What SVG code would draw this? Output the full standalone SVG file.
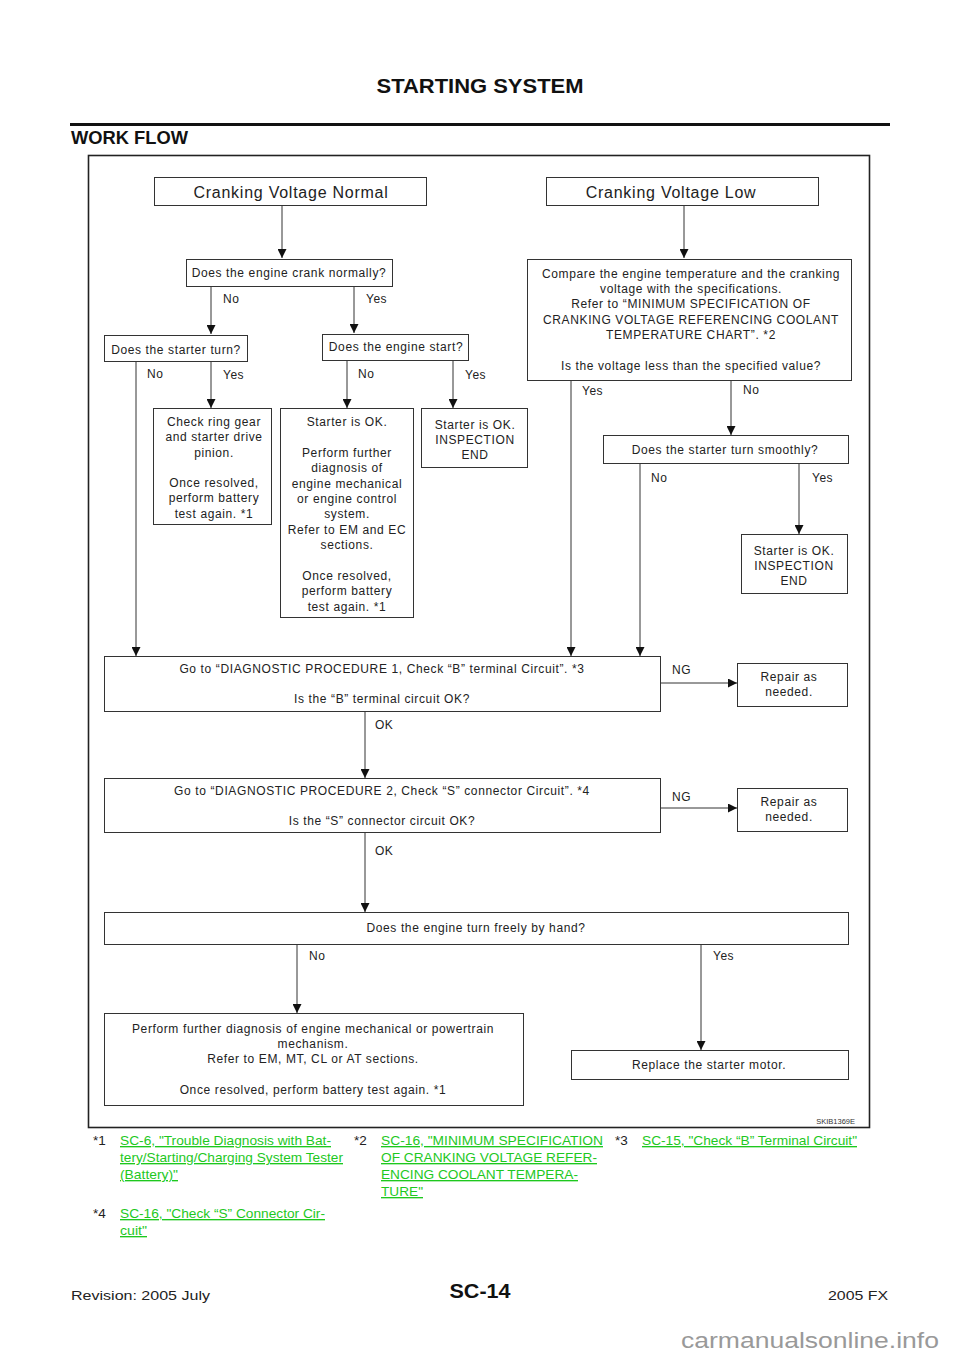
<svg xmlns="http://www.w3.org/2000/svg" width="960" height="1358" viewBox="0 0 960 1358">
<style>
.box{fill:#fff;stroke:#333;stroke-width:1}
.t{font-family:"Liberation Sans",Arial,sans-serif;font-size:12px;fill:#222;letter-spacing:0.62px;text-anchor:middle}
.big{font-size:16px;letter-spacing:0.75px}
.l{font-family:"Liberation Sans",Arial,sans-serif;font-size:12px;fill:#222;letter-spacing:0.5px}
.c{fill:none;stroke:#333;stroke-width:1}
.fn{font-family:"Liberation Sans",Arial,sans-serif;font-size:13.5px;fill:#222}
.lk{font-family:"Liberation Sans",Arial,sans-serif;font-size:13.5px;fill:#1ec81e;text-decoration:underline}
.h{font-family:"Liberation Sans",Arial,sans-serif;font-weight:bold;fill:#111}
</style>
<defs>
<marker id="ah" viewBox="0 0 10 10" refX="10" refY="5" markerWidth="10" markerHeight="9" orient="auto" markerUnits="userSpaceOnUse">
<path d="M0,0 L10,5 L0,10 z" fill="#111"/>
</marker>
</defs>
<rect width="960" height="1358" fill="#fff"/>

<g id="header">
<text class="h" x="480" y="93" font-size="21" text-anchor="middle" textLength="207" lengthAdjust="spacingAndGlyphs">STARTING SYSTEM</text>
<rect x="70" y="123" width="820" height="3" fill="#111"/>
<text class="h" x="71" y="144" font-size="18" textLength="117" lengthAdjust="spacingAndGlyphs">WORK FLOW</text>
<rect x="88.5" y="155.5" width="781" height="972" fill="none" stroke="#222" stroke-width="1.6"/>
<text x="855" y="1124" font-family="Liberation Sans,Arial,sans-serif" font-size="7.5" fill="#333" text-anchor="end">SKIB1369E</text>
</g>

<g id="connectors">
<line class="c" x1="282" y1="205" x2="282" y2="258" marker-end="url(#ah)"/>
<line class="c" x1="684" y1="205" x2="684" y2="258" marker-end="url(#ah)"/>
<line class="c" x1="211" y1="286" x2="211" y2="334" marker-end="url(#ah)"/>
<line class="c" x1="354" y1="286" x2="354" y2="333" marker-end="url(#ah)"/>
<line class="c" x1="136" y1="361" x2="136" y2="656" marker-end="url(#ah)"/>
<line class="c" x1="211" y1="361" x2="211" y2="408" marker-end="url(#ah)"/>
<line class="c" x1="347" y1="360" x2="347" y2="408" marker-end="url(#ah)"/>
<line class="c" x1="453" y1="360" x2="453" y2="408" marker-end="url(#ah)"/>
<line class="c" x1="571" y1="380" x2="571" y2="656" marker-end="url(#ah)"/>
<line class="c" x1="731" y1="380" x2="731" y2="435" marker-end="url(#ah)"/>
<line class="c" x1="640" y1="463" x2="640" y2="656" marker-end="url(#ah)"/>
<line class="c" x1="799" y1="463" x2="799" y2="534" marker-end="url(#ah)"/>
<line class="c" x1="660" y1="683" x2="737" y2="683" marker-end="url(#ah)"/>
<line class="c" x1="365" y1="711" x2="365" y2="778" marker-end="url(#ah)"/>
<line class="c" x1="660" y1="808" x2="737" y2="808" marker-end="url(#ah)"/>
<line class="c" x1="365" y1="832" x2="365" y2="912" marker-end="url(#ah)"/>
<line class="c" x1="297" y1="944" x2="297" y2="1013" marker-end="url(#ah)"/>
<line class="c" x1="701" y1="944" x2="701" y2="1050" marker-end="url(#ah)"/>
<text class="l" x="223" y="303">No</text>
<text class="l" x="366" y="303">Yes</text>
<text class="l" x="147" y="378">No</text>
<text class="l" x="223" y="379">Yes</text>
<text class="l" x="358" y="378">No</text>
<text class="l" x="465" y="379">Yes</text>
<text class="l" x="582" y="395">Yes</text>
<text class="l" x="743" y="394">No</text>
<text class="l" x="651" y="482">No</text>
<text class="l" x="812" y="482">Yes</text>
<text class="l" x="672" y="674">NG</text>
<text class="l" x="375" y="729">OK</text>
<text class="l" x="672" y="801">NG</text>
<text class="l" x="375" y="855">OK</text>
<text class="l" x="309" y="960">No</text>
<text class="l" x="713" y="960">Yes</text>
</g>

<g id="n_normal">
<rect class="box" x="154.5" y="177.5" width="272" height="28"/>
<text class="t big" x="291" y="198">Cranking Voltage Normal</text>
</g>
<g id="n_low">
<rect class="box" x="546.5" y="177.5" width="272" height="28"/>
<text class="t big" x="671" y="198">Cranking Voltage Low</text>
</g>
<g id="n_crank">
<rect class="box" x="186.5" y="259.5" width="206" height="27"/>
<text class="t" x="289" y="277">Does the engine crank normally?</text>
</g>
<g id="n_compare">
<rect class="box" x="527.5" y="259.5" width="324" height="121"/>
<text class="t" x="691" y="278">Compare the engine temperature and the cranking</text>
<text class="t" x="691" y="293">voltage with the specifications.</text>
<text class="t" x="691" y="308">Refer to “MINIMUM SPECIFICATION OF</text>
<text class="t" x="691" y="324">CRANKING VOLTAGE REFERENCING COOLANT</text>
<text class="t" x="691" y="339">TEMPERATURE CHART”. *2</text>
<text class="t" x="691" y="370">Is the voltage less than the specified value?</text>
</g>
<g id="n_starter_turn">
<rect class="box" x="104.5" y="335.5" width="143" height="26"/>
<text class="t" x="176" y="354">Does the starter turn?</text>
</g>
<g id="n_engine_start">
<rect class="box" x="322.5" y="334.5" width="146" height="26"/>
<text class="t" x="396" y="351">Does the engine start?</text>
</g>
<g id="n_ring">
<rect class="box" x="153.5" y="408.5" width="118" height="116"/>
<text class="t" x="214" y="426">Check ring gear</text>
<text class="t" x="214" y="441">and starter drive</text>
<text class="t" x="214" y="457">pinion.</text>
<text class="t" x="214" y="487">Once resolved,</text>
<text class="t" x="214" y="502">perform battery</text>
<text class="t" x="214" y="518">test again. *1</text>
</g>
<g id="n_further">
<rect class="box" x="280.5" y="408.5" width="133" height="209"/>
<text class="t" x="347" y="426">Starter is OK.</text>
<text class="t" x="347" y="457">Perform further</text>
<text class="t" x="347" y="472">diagnosis of</text>
<text class="t" x="347" y="488">engine mechanical</text>
<text class="t" x="347" y="503">or engine control</text>
<text class="t" x="347" y="518">system.</text>
<text class="t" x="347" y="534">Refer to EM and EC</text>
<text class="t" x="347" y="549">sections.</text>
<text class="t" x="347" y="580">Once resolved,</text>
<text class="t" x="347" y="595">perform battery</text>
<text class="t" x="347" y="611">test again. *1</text>
</g>
<g id="n_end1">
<rect class="box" x="421.5" y="408.5" width="106" height="59"/>
<text class="t" x="475" y="429">Starter is OK.</text>
<text class="t" x="475" y="444">INSPECTION</text>
<text class="t" x="475" y="459">END</text>
</g>
<g id="n_smooth">
<rect class="box" x="603.5" y="435.5" width="245" height="28"/>
<text class="t" x="725" y="454">Does the starter turn smoothly?</text>
</g>
<g id="n_end2">
<rect class="box" x="741.5" y="534.5" width="106" height="59"/>
<text class="t" x="794" y="555">Starter is OK.</text>
<text class="t" x="794" y="570">INSPECTION</text>
<text class="t" x="794" y="585">END</text>
</g>
<g id="n_diag1">
<rect class="box" x="104.5" y="656.5" width="556" height="55"/>
<text class="t" x="382" y="673">Go to “DIAGNOSTIC PROCEDURE 1, Check “B” terminal Circuit”. *3</text>
<text class="t" x="382" y="703">Is the “B” terminal circuit OK?</text>
</g>
<g id="n_repair1">
<rect class="box" x="737.5" y="663.5" width="110" height="43"/>
<text class="t" x="789" y="681">Repair as</text>
<text class="t" x="789" y="696">needed.</text>
</g>
<g id="n_diag2">
<rect class="box" x="104.5" y="778.5" width="556" height="54"/>
<text class="t" x="382" y="795">Go to “DIAGNOSTIC PROCEDURE 2, Check “S” connector Circuit”. *4</text>
<text class="t" x="382" y="825">Is the “S” connector circuit OK?</text>
</g>
<g id="n_repair2">
<rect class="box" x="737.5" y="788.5" width="110" height="43"/>
<text class="t" x="789" y="806">Repair as</text>
<text class="t" x="789" y="821">needed.</text>
</g>
<g id="n_hand">
<rect class="box" x="104.5" y="912.5" width="744" height="32"/>
<text class="t" x="476" y="932">Does the engine turn freely by hand?</text>
</g>
<g id="n_mech">
<rect class="box" x="104.5" y="1013.5" width="419" height="92"/>
<text class="t" x="313" y="1033">Perform further diagnosis of engine mechanical or powertrain</text>
<text class="t" x="313" y="1048">mechanism.</text>
<text class="t" x="313" y="1063">Refer to EM, MT, CL or AT sections.</text>
<text class="t" x="313" y="1094">Once resolved, perform battery test again. *1</text>
</g>
<g id="n_replace">
<rect class="box" x="571.5" y="1050.5" width="277" height="29"/>
<text class="t" x="709" y="1069">Replace the starter motor.</text>
</g>

<g id="footnotes">
<text class="fn" x="93" y="1145">*1</text>
<text class="lk" x="120" y="1145" textLength="211" lengthAdjust="spacingAndGlyphs">SC-6, "Trouble Diagnosis with Bat-</text>
<text class="lk" x="120" y="1162" textLength="223" lengthAdjust="spacingAndGlyphs">tery/Starting/Charging System Tester </text>
<text class="lk" x="120" y="1179" textLength="58" lengthAdjust="spacingAndGlyphs">(Battery)"</text>
<text class="fn" x="354" y="1145">*2</text>
<text class="lk" x="381" y="1145" textLength="222" lengthAdjust="spacingAndGlyphs">SC-16, "MINIMUM SPECIFICATION </text>
<text class="lk" x="381" y="1162" textLength="216" lengthAdjust="spacingAndGlyphs">OF CRANKING VOLTAGE REFER-</text>
<text class="lk" x="381" y="1179" textLength="197" lengthAdjust="spacingAndGlyphs">ENCING COOLANT TEMPERA-</text>
<text class="lk" x="381" y="1196" textLength="42" lengthAdjust="spacingAndGlyphs">TURE"</text>
<text class="fn" x="615" y="1145">*3</text>
<text class="lk" x="642" y="1145" textLength="215" lengthAdjust="spacingAndGlyphs">SC-15, "Check “B” Terminal Circuit"</text>
<text class="fn" x="93" y="1218">*4</text>
<text class="lk" x="120" y="1218" textLength="205" lengthAdjust="spacingAndGlyphs">SC-16, "Check “S” Connector Cir-</text>
<text class="lk" x="120" y="1235" textLength="27" lengthAdjust="spacingAndGlyphs">cuit"</text>
</g>

<g id="footer">
<text class="fn" x="71" y="1300" font-size="17" textLength="139" lengthAdjust="spacingAndGlyphs">Revision: 2005 July</text>
<text class="h" x="480" y="1298" font-size="20" text-anchor="middle" textLength="61" lengthAdjust="spacingAndGlyphs">SC-14</text>
<text class="fn" x="828" y="1300" font-size="17" textLength="60" lengthAdjust="spacingAndGlyphs">2005 FX</text>
<text x="681" y="1348" font-family="Liberation Sans,Arial,sans-serif" font-size="22" fill="#999" textLength="258" lengthAdjust="spacingAndGlyphs">carmanualsonline.info</text>
</g>
</svg>
